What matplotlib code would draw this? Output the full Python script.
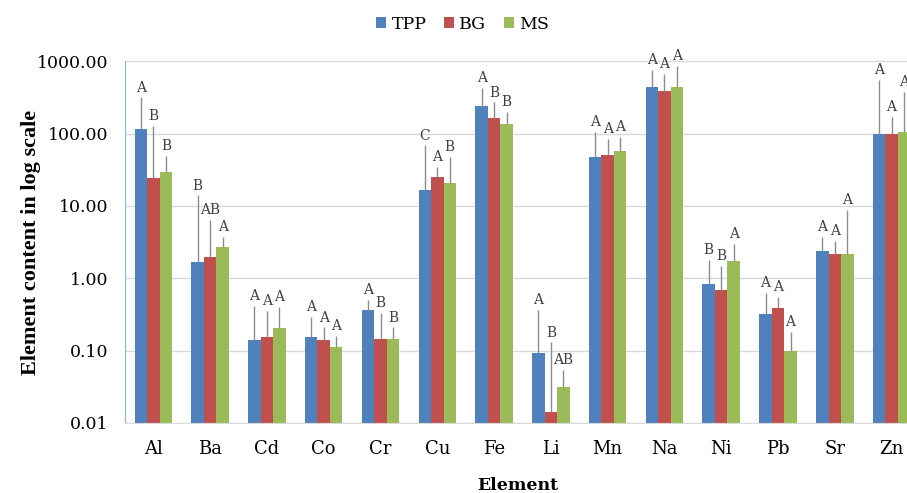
import matplotlib
matplotlib.use('Agg')
import matplotlib.pyplot as plt
import numpy as np

plt.rcParams['font.family'] = ['DejaVu Serif']

# 数据
elements = ['Al', 'Ba', 'Cd', 'Co', 'Cr', 'Cu', 'Fe', 'Li', 'Mn', 'Na', 'Ni', 'Pb', 'Sr', 'Zn']
series = ['TPP', 'BG', 'MS']

tpp = [115, 1.7, 0.14, 0.155, 0.36, 16.6, 240, 0.093, 48, 440, 0.83, 0.32, 2.35, 100]
bg = [24, 1.95, 0.155, 0.14, 0.145, 25, 165, 0.0142, 50, 390, 0.68, 0.39, 2.15, 100]
ms = [29.5, 2.7, 0.205, 0.112, 0.145, 21, 135, 0.031, 58, 440, 1.75, 0.10, 2.15, 104]

# 误差棒（只向上）
tpp_err = [200, 12.3, 0.27, 0.135, 0.14, 52, 185, 0.27, 57, 310, 0.96, 0.30, 1.35, 445]
bg_err = [102, 4.45, 0.195, 0.07, 0.185, 10, 105, 0.116, 34, 270, 0.79, 0.16, 1.1, 68]
ms_err = [20, 1.0, 0.195, 0.047, 0.065, 26, 63, 0.023, 31, 410, 1.21, 0.08, 6.65, 268]

# 显著性字母
tpp_lab = ['A', 'B', 'A', 'A', 'A', 'C', 'A', 'A', 'A', 'A', 'B', 'A', 'A', 'A']
bg_lab = ['B', 'AB', 'A', 'A', 'B', 'A', 'B', 'B', 'A', 'A', 'B', 'A', 'A', 'A']
ms_lab = ['B', 'A', 'A', 'A', 'B', 'B', 'B', 'AB', 'A', 'A', 'A', 'A', 'A', 'A']

yticks = [0.01, 0.1, 1, 10, 100, 1000]
colors = ['#4F81BD', '#C0504D', '#9BBB59']

fig = plt.figure(figsize=(9.07, 4.93), dpi=100)
ax = fig.add_axes([0.1378, 0.142, 0.8765, 0.734])

x = np.arange(len(elements))
w = 0.22
data = [tpp, bg, ms]
errs = [tpp_err, bg_err, ms_err]
labs = [tpp_lab, bg_lab, ms_lab]

for i in range(3):
    xi = x + (i - 1) * w
    ax.bar(xi, data[i], width=w, color=colors[i], label=series[i], zorder=2)
    yerr = [np.zeros(len(elements)), errs[i]]
    ax.errorbar(xi, data[i], yerr=yerr, fmt='none', ecolor='#8C8C8C',
                elinewidth=1, capsize=0, zorder=3)
    for j in range(len(elements)):
        top = data[i][j] + errs[i][j]
        ax.annotate(labs[i][j], (xi[j], top), xytext=(0, 2), textcoords='offset points',
                    ha='center', va='bottom', fontsize=10, family='DejaVu Serif',
                    color='#404040', annotation_clip=False)

ax.set_yscale('log')
ax.set_ylim(0.01, 1000)
ax.set_xlim(-0.5, len(elements) - 0.5)
ax.set_yticks(yticks)
ax.set_yticklabels(['%.2f' % v for v in yticks])
ax.minorticks_off()
ax.set_xticks(x)
ax.set_xticklabels(elements)
ax.tick_params(axis='y', length=0, pad=12, labelsize=12.5)
ax.tick_params(axis='x', length=0, pad=12, labelsize=13)

ax.grid(axis='y', color='#D9D9D9', linewidth=1, zorder=0)
ax.set_axisbelow(True)
for s in ['top', 'right']:
    ax.spines[s].set_visible(False)
ax.spines['left'].set_color('#8EB4E3')
ax.spines['bottom'].set_color('#D9D9D9')

ax.set_ylabel('Element content in log scale', fontsize=16, fontweight='bold',
              family='Liberation Serif')
ax.yaxis.set_label_coords(-0.106, 0.5)
ax.set_xlabel('Element', fontsize=12.5, fontweight='bold')
ax.xaxis.set_label_coords(0.494, -0.149)

fig.legend(loc='upper center', bbox_to_anchor=(0.51, 1.0), ncol=3, frameon=False,
           fontsize=12.5, handlelength=0.6, handleheight=0.6, handletextpad=0.3,
           columnspacing=1.0)

fig.savefig('out.png', dpi=100)
